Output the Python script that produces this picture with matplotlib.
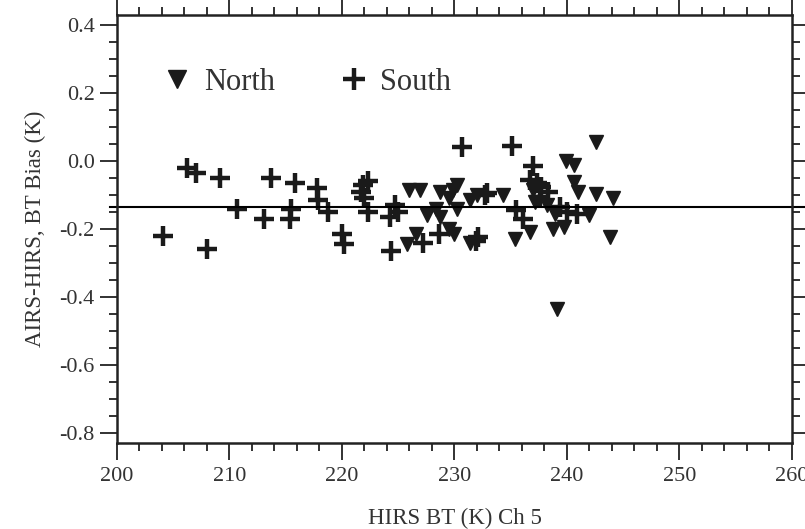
import numpy as np
import matplotlib
matplotlib.use('Agg')
import matplotlib.pyplot as plt
from matplotlib.lines import Line2D
from matplotlib.ticker import MultipleLocator, FormatStrFormatter

plt.rcParams['font.family'] = ['Liberation Serif', 'DejaVu Serif']

# South (+) points: HIRS BT (K), bias (K)
south_bt = [204.1, 206.2, 207.0, 208.0, 209.2, 210.7, 213.1, 213.7, 215.4, 215.5,
            215.8, 217.8, 217.9, 218.8, 220.0, 220.2, 221.9, 222.3, 222.0, 222.3,
            221.7, 224.3, 224.7, 225.0, 224.4, 227.2, 228.6, 230.7, 232.1, 231.9,
            232.7, 232.9, 235.1, 235.5, 236.1, 237.0, 236.7, 237.3, 237.7, 237.6,
            238.3, 239.4, 240.0, 240.9]
south_bias = [-0.22, -0.02, -0.035, -0.26, -0.05, -0.14, -0.17, -0.05, -0.17, -0.14,
              -0.065, -0.08, -0.115, -0.15, -0.215, -0.245, -0.07, -0.06, -0.11, -0.15,
              -0.09, -0.165, -0.13, -0.15, -0.265, -0.24, -0.215, 0.04, -0.225, -0.235,
              -0.10, -0.095, 0.045, -0.145, -0.17, -0.015, -0.055, -0.065, -0.075, -0.105,
              -0.09, -0.135, -0.15, -0.155]

# North (triangle) points
north_bt = [226.0, 226.9, 225.8, 226.6, 227.6, 228.4, 228.7, 228.7, 229.5, 229.9,
            230.2, 230.2, 229.5, 230.0, 231.4, 231.4, 232.0, 234.3, 235.4, 236.7,
            237.0, 238.8, 238.9, 239.7, 239.1, 239.9, 240.6, 240.6, 241.0, 242.6,
            242.6, 242.0, 243.8, 244.1, 237.2, 238.2]
north_bias = [-0.085, -0.085, -0.245, -0.215, -0.16, -0.14, -0.165, -0.09, -0.11, -0.085,
              -0.07, -0.14, -0.20, -0.215, -0.115, -0.24, -0.10, -0.10, -0.23, -0.21,
              -0.085, -0.20, -0.155, -0.195, -0.435, 0.0, -0.012, -0.062, -0.09, 0.056,
              -0.096, -0.16, -0.225, -0.11, -0.12, -0.13]

mean_bias = -0.135

fig = plt.figure(figsize=(8.05, 5.29), dpi=100)
ax = fig.add_axes([0.1453, 0.1626, 0.8385, 0.809])

ax.plot(north_bt, north_bias, 'v', color='#1a1a1a', markersize=9.5, linestyle='none')
ax.plot(south_bt, south_bias, '+', color='#1a1a1a', markersize=14.5, markeredgewidth=3.2,
        linestyle='none')
ax.axhline(mean_bias, xmin=-0.01, xmax=1.03, color='black', lw=1.5, clip_on=False)

ax.set_xlim(200, 260)
ax.set_ylim(-0.83, 0.43)
ax.set_xticks([200, 210, 220, 230, 240, 250, 260])
ax.xaxis.set_minor_locator(MultipleLocator(2))
ax.set_yticks([-0.8, -0.6, -0.4, -0.2, 0.0, 0.2, 0.4])
ax.yaxis.set_minor_locator(MultipleLocator(0.05))
ax.yaxis.set_major_formatter(FormatStrFormatter('%.1f'))

ax.tick_params(which='both', direction='out', top=True, right=True, width=1.3,
               colors='#222222', labelcolor='#333333', labelsize=16)
ax.tick_params(which='major', length=12)
ax.tick_params(which='minor', length=6)
ax.tick_params(axis='x', pad=5)
ax.tick_params(axis='y', pad=4)
for s in ax.spines.values():
    s.set_linewidth(1.8)
    s.set_color('#222222')

ax.set_xlabel('HIRS BT (K) Ch 5', fontsize=16.5, color='#333333', labelpad=16)
ax.set_ylabel('AIRS-HIRS, BT Bias (K)', fontsize=16.5, color='#333333', labelpad=10)

handles = [Line2D([], [], marker='v', color='#1a1a1a', linestyle='none', markersize=13),
           Line2D([], [], marker='+', color='#1a1a1a', linestyle='none', markersize=16,
                  markeredgewidth=3.2)]
ax.legend(handles, ['North', 'South'], ncol=2, frameon=False, loc='center left',
          bbox_to_anchor=(0.067, 0.843), borderpad=0, borderaxespad=0,
          handlelength=1.0, handletextpad=0.36, columnspacing=2.1,
          prop={'size': 22}, labelcolor='#333333')

fig.savefig('out.png', dpi=100)
